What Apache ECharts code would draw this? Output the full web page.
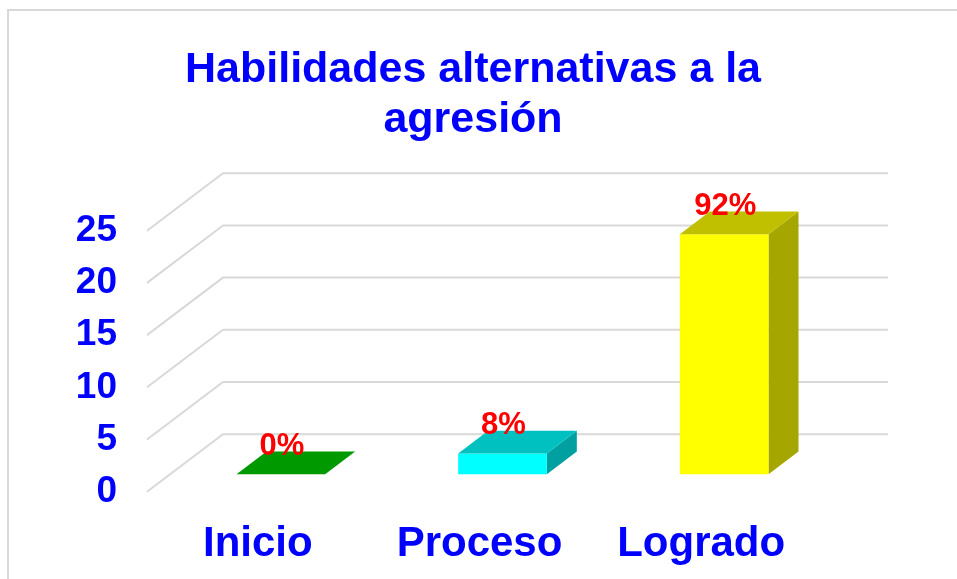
<!DOCTYPE html>
<html lang="es">
<head>
    <meta charset="utf-8"/>
    <title>Habilidades alternativas a la agresión</title>
    <script src="https://cdn.jsdelivr.net/npm/echarts@6/dist/echarts.min.js"></script>
    <style>
        html, body {
            margin: 0;
            height: 100%;
            background: #fff;
        }

        .chart {
            width: 957px;
            height: 579px;
        }
    </style>
</head>
<body>
<div class="chart"></div>
<script>
    // datos
    const categories = ["Inicio", "Proceso", "Logrado"];
    const values = [0, 2, 23];
    const yTicks = [0, 5, 10, 15, 20, 25];
    const frontColors = ["#00CC00", "#00FFFF", "#FFFF00"];
    const topColors = ["#009900", "#00C0C0", "#C0C000"];
    const sideColors = ["#007700", "#00A0A0", "#A6A600"];

    const total = values.reduce((a, b) => a + b, 0);
    const font = "'Liberation Sans', Arial, sans-serif";

    // profundidad 3D del piso y de las barras (px)
    const DX = 76, DY = -57.5;
    const BDX = 30, BDY = -22.7;
    const OX = (DX - BDX) / 2, OY = (DY - BDY) / 2;

    const chart = echarts.init(document.querySelector(".chart"));

    function renderGrid(params, api) {
        const cs = params.coordSys;
        const y = api.coord([0, api.value(0)])[1];
        return {
            type: "polyline",
            shape: {
                points: [[cs.x, y], [cs.x + DX, y + DY], [cs.x + cs.width + DX, y + DY]]
            },
            style: {stroke: "#d9d9d9", lineWidth: 2, fill: null},
            silent: true
        };
    }

    function renderBar(params, api) {
        const i = api.value(0);
        const v = api.value(1);
        const base = api.coord([i, 0]);
        const top = api.coord([i, v]);
        const bw = api.size([1, 0])[0] * 0.4;
        const L = base[0] - bw / 2 + OX;
        const R = L + bw;
        const B = base[1] + OY;
        const T = top[1] + OY;
        const pct = Math.round(v / total * 100) + "%";
        return {
            type: "group",
            children: [
                {
                    type: "polygon",
                    shape: {points: [[R, T], [R + BDX, T + BDY], [R + BDX, B + BDY], [R, B]]},
                    style: {fill: sideColors[i]}
                },
                {
                    type: "rect",
                    shape: {x: L, y: T, width: bw, height: B - T},
                    style: {fill: frontColors[i]}
                },
                {
                    type: "polygon",
                    shape: {points: [[L, T], [R, T], [R + BDX, T + BDY], [L + BDX, T + BDY]]},
                    style: {fill: topColors[i]}
                },
                {
                    type: "text",
                    x: (L + R) / 2 + 1,
                    y: T - 28,
                    style: {
                        text: pct,
                        fill: "#FF0000",
                        font: "bold 31px " + font,
                        align: "center",
                        verticalAlign: "middle"
                    }
                }
            ]
        };
    }

    const option = {
        backgroundColor: "#fff",
        animation: false,
        graphic: [{
            type: "rect",
            shape: {x: 8, y: 10, width: 1000, height: 600},
            style: {fill: null, stroke: "#d9d9d9", lineWidth: 2},
            silent: true
        }],
        title: {
            text: "Habilidades alternativas a la\nagresión",
            left: 468,
            top: 40,
            textAlign: "center",
            textStyle: {
                color: "#0000FF",
                fontSize: 43,
                fontWeight: "bold",
                fontFamily: font,
                lineHeight: 50
            }
        },
        grid: {
            left: 147,
            right: 145,
            top: 230.7,
            bottom: 87.3
        },
        xAxis: {
            type: "category",
            data: categories,
            axisLine: {show: false},
            axisTick: {show: false},
            axisLabel: {
                color: "#0000FF",
                fontSize: 42,
                fontWeight: "bold",
                fontFamily: font,
                margin: 32
            }
        },
        yAxis: {
            type: "value",
            min: 0,
            max: 25,
            interval: 5,
            axisLine: {show: false},
            axisTick: {show: false},
            splitLine: {show: false},
            axisLabel: {
                color: "#0000FF",
                fontSize: 37,
                fontWeight: "bold",
                fontFamily: font,
                margin: 30
            }
        },
        series: [
            {
                type: "custom",
                renderItem: renderGrid,
                data: yTicks.map(t => [t]),
                encode: {y: 0},
                clip: false,
                z: 1,
                silent: true
            },
            {
                type: "custom",
                renderItem: renderBar,
                data: values.map((v, i) => [i, v]),
                encode: {x: 0, y: 1},
                clip: false,
                z: 2
            }
        ]
    };
    chart.setOption(option);
    window.addEventListener("resize", function () {
        chart.resize();
    });
</script>
</body>
</html>
